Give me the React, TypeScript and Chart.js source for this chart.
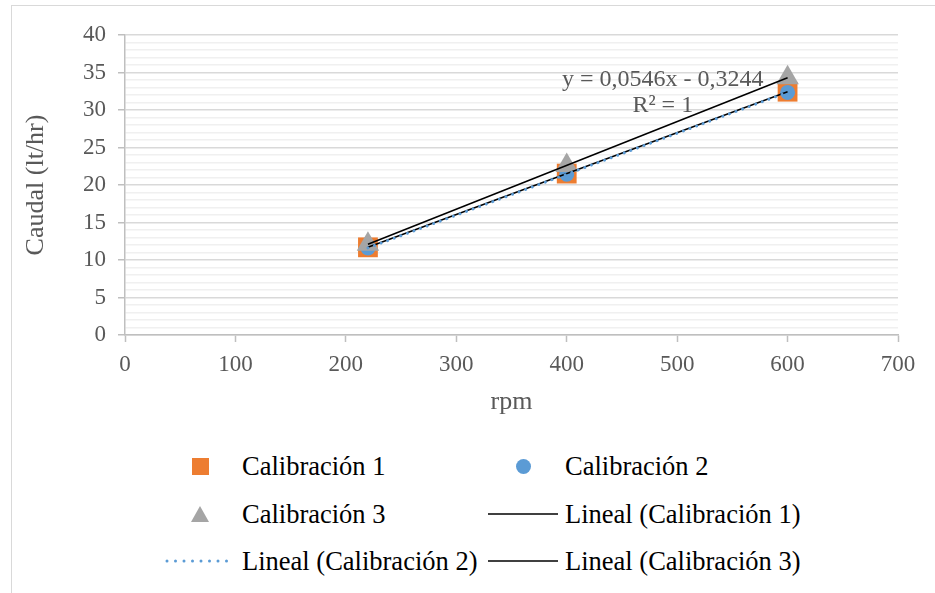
import React, { useEffect, useRef } from "react";
import { Chart, registerables } from "chart.js";

Chart.register(...registerables);

const rpm = [220, 400, 600];
const calibracion1 = [11.69, 21.52, 32.44];
const calibracion2 = [11.6, 21.45, 32.35];
const calibracion3 = [12.1, 22.6, 34.3];
const seriesNames = ["Calibración 1", "Calibración 2", "Calibración 3"];
const trendNames = ["Lineal (Calibración 1)", "Lineal (Calibración 2)", "Lineal (Calibración 3)"];
const equationLines = ["y = 0,0546x - 0,3244", "R² = 1"];
const xAxisTitle = "rpm";
const yAxisTitle = "Caudal (lt/hr)";

const ORANGE = "#ED7D31";
const BLUE = "#5B9BD5";
const GRAY = "#A5A5A5";
const FONT = '"Liberation Serif", "Times New Roman", serif';

function linearFit(xs: number[], ys: number[]) {
  const n = xs.length;
  const mx = xs.reduce((a, b) => a + b, 0) / n;
  const my = ys.reduce((a, b) => a + b, 0) / n;
  let sxy = 0;
  let sxx = 0;
  for (let i = 0; i < n; i++) {
    sxy += (xs[i] - mx) * (ys[i] - my);
    sxx += (xs[i] - mx) * (xs[i] - mx);
  }
  const m = sxy / sxx;
  const b = my - m * mx;
  const x0 = Math.min(...xs);
  const x1 = Math.max(...xs);
  return [
    { x: x0, y: m * x0 + b },
    { x: x1, y: m * x1 + b },
  ];
}

const toPoints = (ys: number[]) => rpm.map((x, i) => ({ x, y: ys[i] }));

const equationPlugin = {
  id: "equationLabel",
  afterDatasetsDraw(chart: any) {
    const { ctx, scales } = chart;
    const xs = scales.x;
    const ys = scales.y;
    ctx.save();
    ctx.font = `24px ${FONT}`;
    ctx.fillStyle = "#595959";
    ctx.textAlign = "center";
    ctx.textBaseline = "middle";
    const cx = xs.getPixelForValue(487);
    ctx.fillText(equationLines[0], cx, ys.getPixelForValue(34));
    ctx.fillText(equationLines[1], cx, ys.getPixelForValue(30.6));
    ctx.restore();
  },
};

function ChartCanvas() {
  const ref = useRef<HTMLCanvasElement | null>(null);
  useEffect(() => {
    if (!ref.current) return;
    const chart = new Chart(ref.current, {
      type: "scatter",
      data: {
        datasets: [
          {
            label: seriesNames[0],
            data: toPoints(calibracion1),
            pointStyle: "rect",
            pointRadius: 14,
            backgroundColor: ORANGE,
            borderColor: ORANGE,
            borderWidth: 0,
            showLine: false,
            order: 6,
          },
          {
            label: seriesNames[1],
            data: toPoints(calibracion2),
            pointStyle: "circle",
            pointRadius: 7.5,
            backgroundColor: BLUE,
            borderColor: BLUE,
            borderWidth: 0,
            showLine: false,
            order: 5,
          },
          {
            label: seriesNames[2],
            data: toPoints(calibracion3),
            pointStyle: "triangle",
            pointRadius: 13,
            backgroundColor: GRAY,
            borderColor: GRAY,
            borderWidth: 0,
            showLine: false,
            order: 4,
          },
          {
            label: trendNames[0],
            type: "line",
            data: linearFit(rpm, calibracion1),
            borderColor: "#000000",
            borderWidth: 1.5,
            pointRadius: 0,
            showLine: true,
            order: 3,
          },
          {
            label: trendNames[1],
            type: "line",
            data: linearFit(rpm, calibracion2),
            borderColor: BLUE,
            borderWidth: 3,
            borderDash: [0.01, 7],
            borderCapStyle: "round",
            pointRadius: 0,
            showLine: true,
            order: 2,
          },
          {
            label: trendNames[2],
            type: "line",
            data: linearFit(rpm, calibracion3),
            borderColor: "#000000",
            borderWidth: 1.5,
            pointRadius: 0,
            showLine: true,
            order: 1,
          },
        ] as any,
      },
      options: {
        animation: false,
        responsive: false,
        layout: { padding: { top: 30, right: 37, left: 0, bottom: 0 } },
        plugins: {
          legend: { display: false },
          tooltip: { enabled: false },
        },
        scales: {
          x: {
            type: "linear",
            min: 0,
            max: 700,
            ticks: {
              stepSize: 100,
              color: "#595959",
              font: { family: FONT, size: 23 },
              padding: 9,
              maxRotation: 0,
            },
            grid: {
              drawOnChartArea: false,
              drawTicks: true,
              tickLength: 7,
              tickColor: "#bfbfbf",
              tickWidth: 1.5,
            },
            border: { color: "#bfbfbf", width: 1.5 },
            title: {
              display: true,
              text: xAxisTitle,
              color: "#595959",
              font: { family: FONT, size: 26 },
              padding: { top: 0, bottom: 17 },
            },
            afterFit(scale: any) {
              scale.height = 100;
            },
          },
          y: {
            type: "linear",
            min: 0,
            max: 40,
            ticks: {
              stepSize: 1,
              autoSkip: false,
              color: "#595959",
              font: { family: FONT, size: 23 },
              padding: 12,
              callback: (v: any) => (Number(v) % 5 === 0 ? String(v) : ""),
            },
            grid: {
              color: (c: any) => (c.tick && c.tick.value % 5 === 0 ? "#d9d9d9" : "#f0f0f0"),
              lineWidth: 1.5,
              drawTicks: true,
              tickLength: 7,
              tickColor: (c: any) => (c.tick && c.tick.value % 5 === 0 ? "#bfbfbf" : "rgba(0,0,0,0)"),
              tickWidth: 1.5,
            },
            border: { color: "#bfbfbf", width: 1.5 },
            title: {
              display: true,
              text: yAxisTitle,
              color: "#595959",
              font: { family: FONT, size: 26 },
              padding: { top: 10, bottom: 0 },
            },
            afterFit(scale: any) {
              scale.width = 114;
            },
          },
        },
      } as any,
      plugins: [equationPlugin],
    });
    return () => chart.destroy();
  }, []);
  return <canvas ref={ref} width={924} height={430} style={{ display: "block" }} />;
}

type LegendItem = {
  label: string;
  kind: "square" | "circle" | "triangle" | "line" | "dotted";
  col: number;
  row: number;
};

const legendItems: LegendItem[] = [
  { label: seriesNames[0], kind: "square", col: 0, row: 0 },
  { label: seriesNames[1], kind: "circle", col: 1, row: 0 },
  { label: seriesNames[2], kind: "triangle", col: 0, row: 1 },
  { label: trendNames[0], kind: "line", col: 1, row: 1 },
  { label: trendNames[1], kind: "dotted", col: 0, row: 2 },
  { label: trendNames[2], kind: "line", col: 1, row: 2 },
];

const colLeft = [165, 488];
const rowCenter = [466, 514, 561];
const SW = 70;

function Swatch({ kind }: { kind: LegendItem["kind"] }) {
  if (kind === "square")
    return <div style={{ width: 17, height: 17, background: ORANGE }} />;
  if (kind === "circle")
    return <div style={{ width: 15, height: 15, borderRadius: "50%", background: BLUE }} />;
  if (kind === "triangle")
    return (
      <div
        style={{
          width: 0,
          height: 0,
          borderLeft: "9px solid transparent",
          borderRight: "9px solid transparent",
          borderBottom: "16px solid " + GRAY,
        }}
      />
    );
  if (kind === "line")
    return (
      <svg width={SW} height={6}>
        <line x1={0} y1={3} x2={SW} y2={3} stroke="#000" strokeWidth={1.5} />
      </svg>
    );
  return (
    <svg width={SW} height={6}>
      <line
        x1={2}
        y1={3}
        x2={SW}
        y2={3}
        stroke={BLUE}
        strokeWidth={3}
        strokeDasharray="0 8.5"
        strokeLinecap="round"
      />
    </svg>
  );
}

export default function App() {
  return (
    <div
      style={{
        position: "absolute",
        left: 0,
        top: 0,
        width: 935,
        height: 593,
        overflow: "hidden",
        background: "#fff",
      }}
    >
      <div
        style={{
          position: "absolute",
          left: 11,
          top: 5,
          width: 1000,
          height: 700,
          border: "1px solid #d9d9d9",
          boxSizing: "border-box",
        }}
      />
      <div style={{ position: "absolute", left: 11, top: 5 }}>
        <ChartCanvas />
      </div>
      {legendItems.map((it, i) => (
        <div
          key={i}
          style={{
            position: "absolute",
            left: colLeft[it.col],
            top: rowCenter[it.row] - 20,
            height: 40,
            display: "flex",
            alignItems: "center",
            whiteSpace: "nowrap",
          }}
        >
          <div
            style={{
              width: SW,
              display: "flex",
              justifyContent: "center",
              alignItems: "center",
            }}
          >
            <Swatch kind={it.kind} />
          </div>
          <span
            style={{
              marginLeft: 7,
              fontFamily: FONT,
              fontSize: 26.5,
              color: "#000",
              lineHeight: "40px",
            }}
          >
            {it.label}
          </span>
        </div>
      ))}
    </div>
  );
}
